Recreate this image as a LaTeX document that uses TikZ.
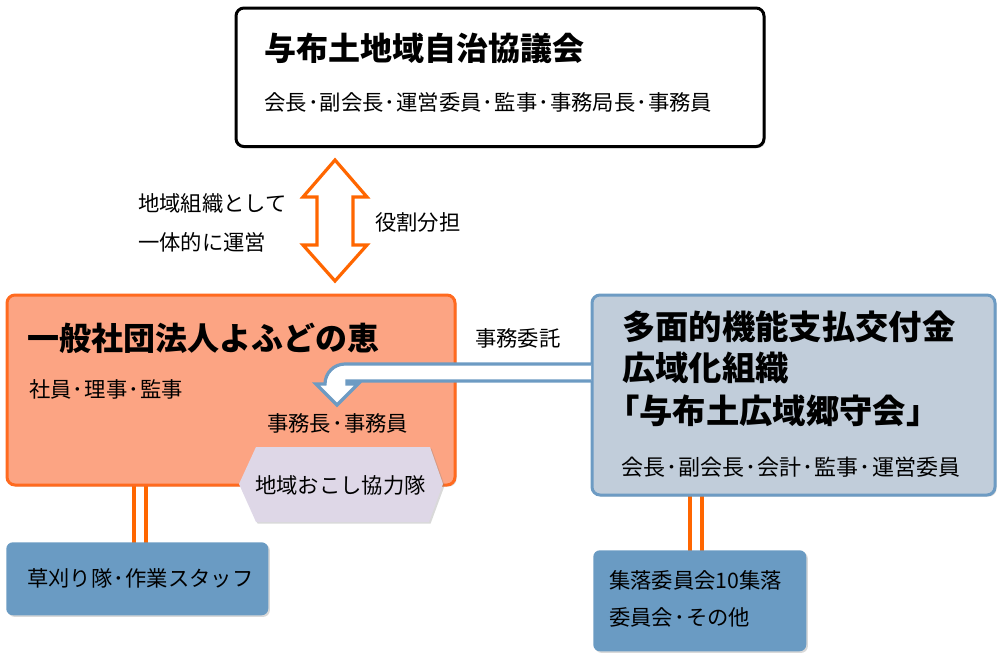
\documentclass[tikz,border=0pt]{standalone}
\usepackage{fontspec}
\setmainfont{Noto Sans CJK JP}
\usetikzlibrary{shadows,calc}
\definecolor{orline}{HTML}{FF6A1F}
\definecolor{orarrow}{HTML}{FF6600}
\definecolor{orfill}{HTML}{FCA483}
\definecolor{blline}{HTML}{6D9BC3}
\definecolor{blfill}{HTML}{C1CDDA}
\definecolor{smfill}{HTML}{6A9BC3}
\definecolor{hexfill}{HTML}{DED7E7}
\newcommand\dt{\makebox[0.6em]{･}}
\tikzset{
  shd/.style={drop shadow={shadow xshift=1.2pt,shadow yshift=-1.2pt,opacity=0.3}},
  bigbox/.style={rounded corners=6pt,line width=2.25pt,anchor=north west,inner sep=0pt,shd},
  smallbox/.style={rounded corners=5pt,fill=smfill,anchor=north west,inner sep=0pt,shd},
  ttl/.style={font=\fontsize{24pt}{28pt}\selectfont\bfseries,anchor=west,inner sep=0pt},
  bttl/.style={ttl,font=\fontsize{25pt}{28pt}\selectfont\bfseries},
  txt/.style={font=\fontsize{16pt}{20pt}\selectfont,anchor=west,inner sep=0pt},
  dline/.style={orarrow,line width=2.4pt},
}
\begin{document}
\begin{tikzpicture}[x=0.75pt,y=-0.75pt]
\useasboundingbox (0,0) rectangle (1000,657);
% connector double lines (under boxes)
\coordinate (l1a) at (134,484); \coordinate (l1b) at (134,543);
\coordinate (l2a) at (146,484); \coordinate (l2b) at (146,543);
\coordinate (r1a) at (690,494); \coordinate (r1b) at (690,551);
\coordinate (r2a) at (702,494); \coordinate (r2b) at (702,551);
\draw[dline] (l1a) -- (l1b); \draw[dline] (l2a) -- (l2b);
\draw[dline] (r1a) -- (r1b); \draw[dline] (r2a) -- (r2b);
% top box
\node[bigbox,draw=black,fill=white,minimum width=396pt,minimum height=103.9pt] (top) at (234.5,6.5) {};
\node[ttl] (toptitle) at (264,48) {与布土地域自治協議会};
\node[txt] (topsub) at (264,102) {会長\dt 副会長\dt 運営委員\dt 監事\dt 事務局長\dt 事務員};
% orange box
\node[bigbox,draw=orline,fill=orfill,minimum width=336pt,minimum height=142.5pt] (org) at (5.5,293.5) {};
\node[ttl] (orgtitle) at (27,338) {一般社団法人よふどの恵};
\node[txt] (orgsub) at (29,389) {社員\dt 理事\dt 監事};
\node[txt] (orgsub2) at (267,423) {事務長\dt 事務員};
% hexagon
\fill[hexfill,shd] (239,484) -- (256,447) -- (430,447) -- (443,484) -- (429,522) -- (256,522) -- cycle;
\node[txt] (hex) at (255,485) {地域おこし協力隊};
% blue box
\node[bigbox,draw=blline,fill=blfill,minimum width=302.25pt,minimum height=150pt] (blue) at (590.5,293.5) {};
\node[bttl] (bt1) at (622,327) {多面的機能支払交付金};
\node[bttl] (bt2) at (622,368) {広域化組織};
\node[bttl] (bt3) at (606,411) {「与布土広域郷守会」};
\node[txt,font=\fontsize{16.5pt}{20pt}\selectfont] (bsub) at (621,467) {会長\dt 副会長\dt 会計\dt 監事\dt 運営委員};
% small boxes
\node[smallbox,minimum width=196.5pt,minimum height=54.75pt] (kusa) at (6,542) {};
\node[txt] (kusat) at (27,578) {草刈り隊\dt 作業スタッフ};
\node[smallbox,minimum width=159.75pt,minimum height=75.75pt] (shu) at (593,550) {};
\node[txt] (shut1) at (609,580) {集落委員会10集落};
\node[txt] (shut2) at (609,617) {委員会\dt その他};
% double arrow
\draw[orarrow,line width=2.4pt,fill=white,line join=miter]
  (335,160) -- (367,197) -- (353,197) -- (353,245) -- (367,245) -- (335,281)
  -- (303,245) -- (317,245) -- (317,197) -- (303,197) -- cycle;
\node[txt] (lab1) at (138,203) {地域組織として};
\node[txt] (lab2) at (138,242) {一体的に運営};
\node[txt] (lab3) at (375,222) {役割分担};
% fat arrow (事務委託)
\draw[blline,line width=2.4pt,fill=white,line join=miter]
  (591,364) -- (345,364) arc[start angle=270,end angle=180,radius=20]
  -- (316,384) -- (337,405) -- (358,384) -- (347,384) -- (347,381) -- (591,381);
\node[txt] (lab4) at (475,338) {事務委託};
\end{tikzpicture}
\end{document}
